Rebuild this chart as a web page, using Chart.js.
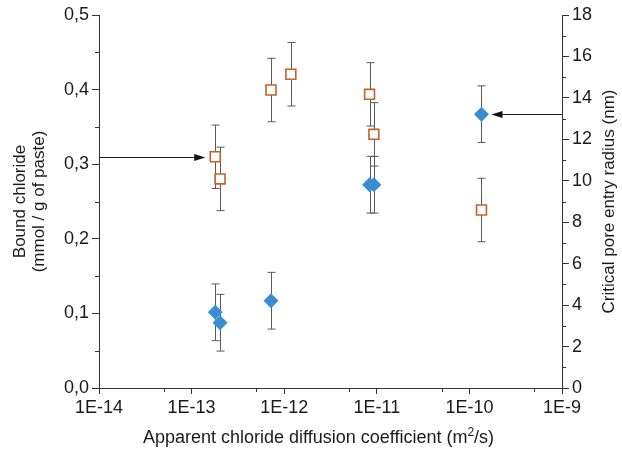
<!DOCTYPE html>
<html>
<head>
<meta charset="utf-8">
<script src="https://cdn.jsdelivr.net/npm/chart.js@4"></script>
<style>
  html, body { margin: 0; padding: 0; background: #fff; }
  #wrap { width: 622px; height: 457px; }
</style>
</head>
<body>
<div id="wrap"><canvas id="chart" width="622" height="457"></canvas></div>
<script>
// apparent chloride diffusion coefficient (m2/s), one per sample
const diffusion = [1.8e-13, 2.03e-13, 7.2e-13, 1.18e-12, 8.35e-12, 9.3e-12, 1.35e-10];
// bound chloride (mmol / g of paste), left axis
const boundChloride = [0.1015, 0.0875, 0.117, null, 0.2725, 0.2725, 0.367];
const chlorideErr = [0.038, 0.038, 0.038, null, 0.038, 0.038, 0.038];
// critical pore entry radius (nm), right axis
const poreRadius = [11.16, 10.09, 14.38, 15.14, 14.17, 12.24, 8.59];
const radiusErr = [1.53, 1.53, 1.53, 1.53, 1.53, 1.53, 1.53];

const xDecades = [-14, -13, -12, -11, -10, -9];
const yLeftMinor = [0.05, 0.15, 0.25, 0.35, 0.45];
const yRightMinor = [1, 3, 5, 7, 9, 11, 13, 15, 17];
const rightTitle = 'Critical pore entry radius (nm)';
const xTitle = ['Apparent chloride diffusion coefficient (m', '2', '/s)'];

const FONT = 'Liberation Sans, Arial, sans-serif';
const AXIS = '#333';
const TEXT = '#1a1a1a';

function points(vals) {
  const out = [];
  vals.forEach((v, i) => { if (v !== null) out.push({x: diffusion[i], y: v, i: i}); });
  return out;
}

// error bars, drawn under the markers
const errorBars = {
  id: 'errorBars',
  beforeDatasetsDraw(chart) {
    const ctx = chart.ctx;
    const x = chart.scales.x;
    ctx.save();
    ctx.strokeStyle = '#5a5a5a';
    ctx.lineWidth = 1;
    chart.data.datasets.forEach(ds => {
      const ys = chart.scales[ds.yAxisID];
      ds.data.forEach(p => {
        const e = ds.errors[p.i];
        if (e == null) return;
        const px = Math.round(x.getPixelForValue(p.x)) + 0.5;
        const top = ys.getPixelForValue(p.y + e);
        const bot = ys.getPixelForValue(p.y - e);
        ctx.beginPath();
        ctx.moveTo(px, top); ctx.lineTo(px, bot);
        ctx.moveTo(px - 4, top); ctx.lineTo(px + 4, top);
        ctx.moveTo(px - 4, bot); ctx.lineTo(px + 4, bot);
        ctx.stroke();
      });
    });
    ctx.restore();
  }
};

// minor ticks, right title reading upwards, x title with superscript
const axisExtras = {
  id: 'axisExtras',
  afterDraw(chart) {
    const ctx = chart.ctx;
    const a = chart.chartArea;
    ctx.save();
    ctx.strokeStyle = AXIS;
    ctx.lineWidth = 1;
    ctx.beginPath();
    xDecades.slice(0, -1).forEach(d => {
      const px = Math.round(chart.scales.x.getPixelForValue(5 * Math.pow(10, d))) + 0.5;
      ctx.moveTo(px, a.bottom); ctx.lineTo(px, a.bottom + 4);
    });
    yLeftMinor.forEach(v => {
      const py = Math.round(chart.scales.y.getPixelForValue(v)) + 0.5;
      ctx.moveTo(a.left, py); ctx.lineTo(a.left - 4, py);
    });
    yRightMinor.forEach(v => {
      const py = Math.round(chart.scales.y2.getPixelForValue(v)) + 0.5;
      ctx.moveTo(a.right, py); ctx.lineTo(a.right + 4, py);
    });
    ctx.stroke();

    ctx.fillStyle = TEXT;
    ctx.textBaseline = 'alphabetic';
    // x title
    const big = '18px ' + FONT, small = '12px ' + FONT;
    ctx.font = big;
    const w0 = ctx.measureText(xTitle[0]).width;
    const w2 = ctx.measureText(xTitle[2]).width;
    ctx.font = small;
    const w1 = ctx.measureText(xTitle[1]).width;
    const cx = a.left + (a.right - a.left) / 2 - 12;
    let tx = cx - (w0 + w1 + w2) / 2;
    const by = chart.height - 14;
    ctx.textAlign = 'left';
    ctx.font = big;
    ctx.fillText(xTitle[0], tx, by);
    tx += w0;
    ctx.font = small;
    ctx.fillText(xTitle[1], tx, by - 7);
    tx += w1;
    ctx.font = big;
    ctx.fillText(xTitle[2], tx, by);

    // right title
    const s = chart.scales.y2;
    ctx.translate(s.right - 13, (a.top + a.bottom) / 2);
    ctx.rotate(-Math.PI / 2);
    ctx.font = '17px ' + FONT;
    ctx.textAlign = 'center';
    ctx.textBaseline = 'middle';
    ctx.fillText(rightTitle, 0, 0);
    ctx.restore();
  }
};

// arrows from an axis to a marker
const arrows = [
  {dataset: 1, index: 0, from: 'left', gap: 10},
  {dataset: 0, index: 6, from: 'right', gap: 10}
];
const arrowPlugin = {
  id: 'arrows',
  afterDatasetsDraw(chart) {
    const ctx = chart.ctx;
    const a = chart.chartArea;
    ctx.save();
    ctx.strokeStyle = '#222';
    ctx.fillStyle = '#111';
    ctx.lineWidth = 1.2;
    arrows.forEach(ar => {
      const ds = chart.data.datasets[ar.dataset];
      const p = ds.data.find(d => d.i === ar.index);
      const px = chart.scales.x.getPixelForValue(p.x);
      const py = Math.round(chart.scales[ds.yAxisID].getPixelForValue(p.y)) + 0.5;
      const dir = ar.from === 'left' ? 1 : -1;
      const start = ar.from === 'left' ? a.left : a.right;
      const tip = px - dir * ar.gap;
      ctx.beginPath();
      ctx.moveTo(start, py); ctx.lineTo(tip - dir * 8, py);
      ctx.stroke();
      ctx.beginPath();
      ctx.moveTo(tip, py);
      ctx.lineTo(tip - dir * 11, py - 3.5);
      ctx.lineTo(tip - dir * 11, py + 3.5);
      ctx.closePath();
      ctx.fill();
    });
    ctx.restore();
  }
};

const comma = v => v.toFixed(1).replace('.', ',');

new Chart(document.getElementById('chart'), {
  type: 'scatter',
  data: {
    datasets: [
      {
        label: 'Bound chloride',
        data: points(boundChloride),
        errors: chlorideErr,
        yAxisID: 'y',
        pointStyle: 'rectRot',
        radius: 7.5,
        backgroundColor: '#3a8dd2',
        borderColor: '#3a8dd2',
        borderWidth: 0
      },
      {
        label: 'Critical pore entry radius',
        data: points(poreRadius),
        errors: radiusErr,
        yAxisID: 'y2',
        pointStyle: 'rect',
        radius: 7,
        backgroundColor: '#ffffff',
        borderColor: '#c8602a',
        borderWidth: 1.6
      }
    ]
  },
  options: {
    responsive: false,
    animation: false,
    layout: { padding: { top: 15, left: 0, right: 0, bottom: 0 } },
    plugins: { legend: { display: false }, tooltip: { enabled: false } },
    scales: {
      x: {
        type: 'logarithmic',
        min: 1e-14,
        max: 1e-9,
        afterBuildTicks: s => { s.ticks = xDecades.map(e => ({ value: Math.pow(10, e) })); },
        afterFit: s => { s.height = 69; },
        ticks: {
          color: TEXT,
          font: { family: FONT, size: 18 },
          padding: 3,
          maxRotation: 0,
          autoSkip: false,
          callback: v => '1E' + Math.round(Math.log10(v))
        },
        grid: { drawOnChartArea: false, tickLength: 6, color: AXIS },
        border: { color: AXIS, width: 1 }
      },
      y: {
        position: 'left',
        min: 0,
        max: 0.5,
        afterFit: s => { s.width = 99; },
        ticks: {
          stepSize: 0.1,
          color: TEXT,
          font: { family: FONT, size: 18 },
          padding: 3,
          callback: v => comma(v)
        },
        grid: { drawOnChartArea: false, tickLength: 7, color: AXIS },
        border: { color: AXIS, width: 1 },
        title: {
          display: true,
          text: ['Bound chloride', '(mmol / g of paste)'],
          color: TEXT,
          font: { family: FONT, size: 17, lineHeight: 1.1 },
          padding: { top: 11, bottom: 0 }
        }
      },
      y2: {
        position: 'right',
        min: 0,
        max: 18,
        afterFit: s => { s.width = 60; },
        ticks: {
          stepSize: 2,
          color: TEXT,
          font: { family: FONT, size: 18 },
          padding: 3
        },
        grid: { drawOnChartArea: false, tickLength: 7, color: AXIS },
        border: { color: AXIS, width: 1 }
      }
    }
  },
  plugins: [errorBars, axisExtras, arrowPlugin]
});
</script>
</body>
</html>
